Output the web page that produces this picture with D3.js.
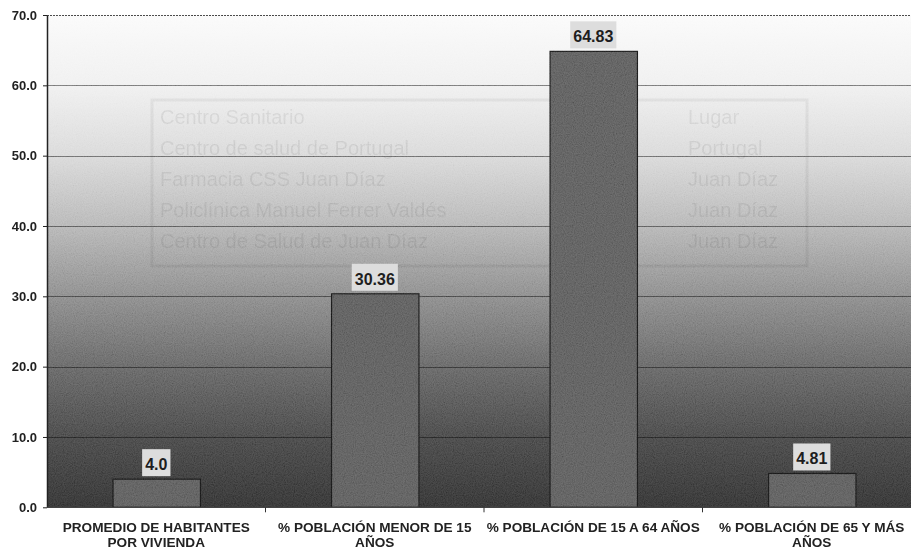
<!DOCTYPE html>
<html>
<head>
<meta charset="utf-8">
<script src="https://cdn.jsdelivr.net/npm/d3@7"></script>
<style>
  body { margin: 0; background: #fff; }
  svg { display: block; }
</style>
</head>
<body>
<svg id="chart" width="911" height="554"></svg>
<script>
// Indicadores demográficos de la población
const categories = [
  "PROMEDIO DE HABITANTES POR VIVIENDA",
  "% POBLACIÓN MENOR DE 15 AÑOS",
  "% POBLACIÓN DE 15 A 64 AÑOS",
  "% POBLACIÓN DE 65 Y MÁS AÑOS"
];
const categoryLines = [
  ["PROMEDIO DE HABITANTES", "POR VIVIENDA"],
  ["% POBLACIÓN MENOR DE 15", "AÑOS"],
  ["% POBLACIÓN DE 15 A 64 AÑOS"],
  ["% POBLACIÓN DE 65 Y MÁS", "AÑOS"]
];
const values = [4.0, 30.36, 64.83, 4.81];
const valueLabels = ["4.0", "30.36", "64.83", "4.81"];
const yTicks = [0, 10, 20, 30, 40, 50, 60, 70];

// Faint table printed on the back of the sheet
const tableRows = [
  ["Centro Sanitario", "Lugar"],
  ["Centro de salud de Portugal", "Portugal"],
  ["Farmacia CSS Juan Díaz", "Juan Díaz"],
  ["Policlínica Manuel Ferrer Valdés", "Juan Díaz"],
  ["Centro de Salud de Juan Díaz", "Juan Díaz"]
];

const W = 911, H = 554;
const svg = d3.select("#chart");

const x = d3.scaleBand()
  .domain(categories)
  .range([47, 921])
  .paddingInner(0.6)
  .paddingOuter(0.3);

const y = d3.scaleLinear()
  .domain([0, 70])
  .range([507.3, 15]);

const defs = svg.append("defs");

const grad = defs.append("linearGradient")
  .attr("id", "bg")
  .attr("x1", 0).attr("y1", 0).attr("x2", 0).attr("y2", 1);
[
  [0, "#fafafa"], [0.144, "#efefef"], [0.286, "#d8d8d8"], [0.43, "#b4b4b4"],
  [0.57, "#8a8a8a"], [0.714, "#636363"], [0.857, "#444444"], [1, "#2f2f2f"]
].forEach(([o, c]) => grad.append("stop").attr("offset", o).attr("stop-color", c));

const grain = defs.append("filter").attr("id", "grain")
  .attr("x", 0).attr("y", 0).attr("width", 1).attr("height", 1);
grain.append("feTurbulence").attr("type", "fractalNoise")
  .attr("baseFrequency", 0.9).attr("numOctaves", 2).attr("seed", 3).attr("result", "n");
grain.append("feColorMatrix").attr("type", "matrix")
  .attr("values", "1 0 0 0 0  1 0 0 0 0  1 0 0 0 0  0 0 0 0 1");

defs.append("clipPath").attr("id", "plotClip")
  .append("rect").attr("x", 47).attr("y", 0).attr("width", W - 47).attr("height", y(0));

// plot background
svg.append("rect")
  .attr("x", 47).attr("y", y(70))
  .attr("width", W - 47).attr("height", y(0) - y(70))
  .attr("fill", "url(#bg)");

// table from the reverse side, barely visible
const table = svg.append("g").attr("font-family", "'Liberation Sans', Arial, sans-serif")
  .attr("font-size", 20).attr("fill", "#000").attr("fill-opacity", 0.08);
table.append("rect").attr("x", 152).attr("y", 100).attr("width", 655).attr("height", 166)
  .attr("fill", "none").attr("stroke", "#000").attr("stroke-opacity", 0.06).attr("stroke-width", 3);
table.selectAll("text.c1").data(tableRows).join("text").attr("class", "c1")
  .attr("x", 160).attr("y", (d, i) => 124 + i * 31).text(d => d[0]);
table.selectAll("text.c2").data(tableRows).join("text").attr("class", "c2")
  .attr("x", 688).attr("y", (d, i) => 124 + i * 31).text(d => d[1]);

// gridlines
const grid = svg.append("g").attr("clip-path", "url(#plotClip)");
grid.selectAll("line").data(yTicks.filter(t => t > 0)).join("line")
  .attr("x1", 47).attr("x2", W)
  .attr("y1", d => Math.round(y(d)) + 0.5).attr("y2", d => Math.round(y(d)) + 0.5)
  .attr("stroke", "#000")
  .attr("stroke-opacity", d => d === 70 ? 0.75 : 0.5)
  .attr("stroke-dasharray", d => d === 70 ? "2,1" : null);

// bars
svg.append("g").attr("clip-path", "url(#plotClip)")
  .selectAll("rect").data(values).join("rect")
  .attr("x", (d, i) => x(categories[i]) + 0.5)
  .attr("y", d => y(d))
  .attr("width", x.bandwidth())
  .attr("height", d => y(0) - y(d))
  .attr("fill", "#5a5a5a")
  .attr("stroke", "#151515")
  .attr("stroke-width", 1.2);

// scan grain over the plot area
svg.append("rect")
  .attr("x", 47).attr("y", y(70))
  .attr("width", W - 47).attr("height", y(0) - y(70))
  .attr("filter", "url(#grain)")
  .style("mix-blend-mode", "soft-light")
  .attr("opacity", 0.45);

// value labels
const lab = svg.append("g").selectAll("g").data(values).join("g")
  .attr("transform", (d, i) => `translate(${x(categories[i]) + x.bandwidth() / 2},${y(d) - 3})`);
lab.append("text")
  .attr("text-anchor", "middle")
  .attr("y", -6)
  .attr("font-family", "'Liberation Sans', Arial, sans-serif")
  .attr("font-weight", "bold")
  .attr("font-size", 16)
  .attr("fill", "#1e1e1e")
  .text((d, i) => valueLabels[i])
  .each(function () {
    const b = this.getBBox();
    d3.select(this.parentNode).insert("rect", "text")
      .attr("x", b.x - 3).attr("y", -27)
      .attr("width", b.width + 6).attr("height", 27)
      .attr("fill", "#dddddd");
  });

// y axis
const yAxis = svg.append("g")
  .attr("transform", "translate(47,0)")
  .call(d3.axisLeft(y).tickValues(yTicks).tickFormat(d3.format(".1f")).tickSize(4).tickSizeOuter(0));
yAxis.select(".domain").attr("stroke", "#222").attr("stroke-width", 1.5);
yAxis.selectAll(".tick line").attr("stroke", "#222");
yAxis.selectAll(".tick text")
  .attr("x", -10)
  .attr("font-family", "'Liberation Sans', Arial, sans-serif")
  .attr("font-weight", "bold")
  .attr("font-size", 13)
  .attr("fill", "#222");

// x axis baseline and category separators
const xAxis = svg.append("g").attr("transform", `translate(0,${y(0)})`);
xAxis.append("line").attr("x1", 47).attr("x2", W).attr("stroke", "#444").attr("stroke-width", 1.2);
xAxis.selectAll("line.sep").data(d3.range(1, categories.length)).join("line")
  .attr("class", "sep")
  .attr("x1", k => x.range()[0] + k * x.step()).attr("x2", k => x.range()[0] + k * x.step())
  .attr("y1", 0).attr("y2", 5)
  .attr("stroke", "#333");

// category labels
const cat = svg.append("g")
  .attr("font-family", "'Liberation Sans', Arial, sans-serif")
  .attr("font-weight", "bold")
  .attr("font-size", 13.6)
  .attr("fill", "#222")
  .attr("text-anchor", "middle");
cat.selectAll("text").data(categoryLines).join("text")
  .attr("transform", (d, i) => `translate(${x(categories[i]) + x.bandwidth() / 2},531.5)`)
  .selectAll("tspan").data(d => d).join("tspan")
  .attr("x", 0)
  .attr("dy", (d, j) => j === 0 ? 0 : 15)
  .text(d => d);
</script>
</body>
</html>
